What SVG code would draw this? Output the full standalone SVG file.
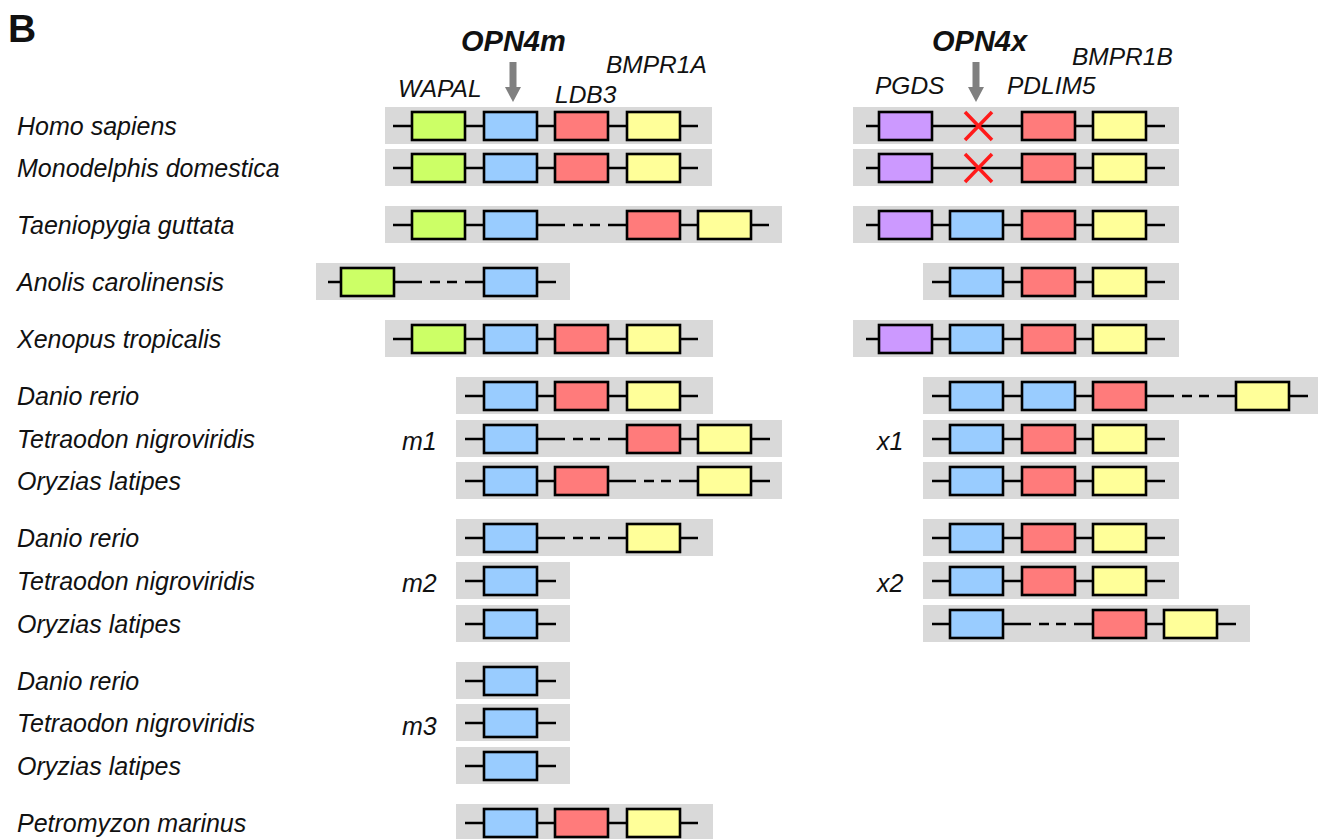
<svg xmlns="http://www.w3.org/2000/svg" width="1319" height="839" viewBox="0 0 1319 839">
<style>
.band{fill:#d9d9d9}
.ln{stroke:#000;stroke-width:2.5;fill:none}
.bx{stroke:#000;stroke-width:2.6}
.gr{fill:#ccff66}.bl{fill:#99ccff}.rd{fill:#ff7b7b}.ye{fill:#ffff99}.pu{fill:#cc99ff}
.sp{font-family:"Liberation Sans",Arial,sans-serif;font-style:italic;font-size:24.5px;fill:#111}
.lb{font-size:25px}
.hd{font-family:"Liberation Sans",Arial,sans-serif;font-style:italic;font-weight:bold;font-size:29px;fill:#111}
.xm{stroke:#ff1a1a;stroke-width:3.5;fill:none}
.ar{fill:#808080}
</style>
<rect width="1319" height="839" fill="#fff"/>
<text x="8" y="42" font-family="Liberation Sans, Arial, sans-serif" font-weight="bold" font-size="39" fill="#111">B</text>

<g id="header">
<text class="hd" x="461" y="51">OPN4m</text>
<rect class="ar" x="509.5" y="62" width="7" height="27"/>
<polygon class="ar" points="505,87 521,87 513,102"/>
<text class="sp" x="398" y="97">WAPAL</text>
<text class="sp" x="555" y="103">LDB3</text>
<text class="sp" x="606" y="73">BMPR1A</text>
<text class="hd" x="932" y="51">OPN4x</text>
<rect class="ar" x="972.5" y="62" width="7" height="27"/>
<polygon class="ar" points="968,87 984,87 976,102"/>
<text class="sp" x="875" y="94">PGDS</text>
<text class="sp" x="1007" y="94">PDLIM5</text>
<text class="sp" x="1072" y="65">BMPR1B</text>
</g>

<g id="labels">
<text class="sp lb" x="17" y="135">Homo sapiens</text>
<text class="sp lb" x="17" y="177">Monodelphis domestica</text>
<text class="sp lb" x="17" y="234">Taeniopygia guttata</text>
<text class="sp lb" x="17" y="291">Anolis carolinensis</text>
<text class="sp lb" x="17" y="348">Xenopus tropicalis</text>
<text class="sp lb" x="17" y="405">Danio rerio</text>
<text class="sp lb" x="17" y="448">Tetraodon nigroviridis</text>
<text class="sp lb" x="17" y="490">Oryzias latipes</text>
<text class="sp lb" x="17" y="547">Danio rerio</text>
<text class="sp lb" x="17" y="590">Tetraodon nigroviridis</text>
<text class="sp lb" x="17" y="633">Oryzias latipes</text>
<text class="sp lb" x="17" y="690">Danio rerio</text>
<text class="sp lb" x="17" y="732">Tetraodon nigroviridis</text>
<text class="sp lb" x="17" y="775">Oryzias latipes</text>
<text class="sp lb" x="17" y="832">Petromyzon marinus</text>
<text class="sp lb" x="402" y="450">m1</text>
<text class="sp lb" x="402" y="592">m2</text>
<text class="sp lb" x="402" y="735">m3</text>
<text class="sp lb" x="877" y="450">x1</text>
<text class="sp lb" x="877" y="592">x2</text>
</g>

<g id="bands">
<rect class="band" x="385" y="107" width="327" height="37"/>
<rect class="band" x="385" y="149" width="327" height="37"/>
<rect class="band" x="385" y="206" width="397" height="37"/>
<rect class="band" x="316" y="263" width="254" height="37"/>
<rect class="band" x="385" y="320" width="328" height="37"/>
<rect class="band" x="456" y="377" width="257" height="37"/>
<rect class="band" x="456" y="420" width="326" height="37"/>
<rect class="band" x="456" y="462" width="326" height="37"/>
<rect class="band" x="456" y="519" width="257" height="37"/>
<rect class="band" x="456" y="562" width="114" height="37"/>
<rect class="band" x="456" y="605" width="114" height="37"/>
<rect class="band" x="456" y="662" width="114" height="37"/>
<rect class="band" x="456" y="704" width="114" height="37"/>
<rect class="band" x="456" y="747" width="114" height="37"/>
<rect class="band" x="456" y="804" width="257" height="37"/>
<rect class="band" x="853" y="107" width="326" height="37"/>
<rect class="band" x="853" y="149" width="326" height="37"/>
<rect class="band" x="853" y="206" width="326" height="37"/>
<rect class="band" x="923" y="263" width="256" height="37"/>
<rect class="band" x="853" y="320" width="326" height="37"/>
<rect class="band" x="923" y="377" width="395" height="37"/>
<rect class="band" x="923" y="420" width="256" height="37"/>
<rect class="band" x="923" y="462" width="256" height="37"/>
<rect class="band" x="923" y="519" width="256" height="37"/>
<rect class="band" x="923" y="562" width="256" height="37"/>
<rect class="band" x="923" y="605" width="327" height="37"/>
</g>

<g id="connectors" class="ln">
<path d="M393 126H698M393 168H698M393 339H698"/>
<path d="M393 225H565M573 225H583M590 225H600M608 225H769"/>
<path d="M328 282H422M430 282H440M447 282H457M465 282H556"/>
<path d="M465 396H698M465 823H698"/>
<path d="M465 439H565M573 439H583M590 439H600M608 439H770"/>
<path d="M465 481H636M644 481H654M661 481H671M679 481H770"/>
<path d="M465 538H565M573 538H583M590 538H600M608 538H698"/>
<path d="M465 581H556M465 624H556M465 681H556M465 723H556M465 766H556"/>
<path d="M866 126H1165M866 168H1165M866 225H1165M866 339H1165"/>
<path d="M932 282H1165M932 439H1165M932 481H1165M932 538H1165M932 581H1165"/>
<path d="M932 396H1174M1182 396H1192M1199 396H1209M1217 396H1308"/>
<path d="M932 624H1031M1039 624H1049M1056 624H1066M1074 624H1236"/>
</g>

<g id="row-homo-m" class="bx">
<rect class="gr" x="412" y="112" width="53" height="28"/>
<rect class="bl" x="484" y="112" width="53" height="28"/>
<rect class="rd" x="555" y="112" width="53" height="28"/>
<rect class="ye" x="627" y="112" width="53" height="28"/>
</g>
<g id="row-mono-m" class="bx">
<rect class="gr" x="412" y="154" width="53" height="28"/>
<rect class="bl" x="484" y="154" width="53" height="28"/>
<rect class="rd" x="555" y="154" width="53" height="28"/>
<rect class="ye" x="627" y="154" width="53" height="28"/>
</g>
<g id="row-taen-m" class="bx">
<rect class="gr" x="412" y="211" width="53" height="28"/>
<rect class="bl" x="484" y="211" width="53" height="28"/>
<rect class="rd" x="627" y="211" width="53" height="28"/>
<rect class="ye" x="698" y="211" width="53" height="28"/>
</g>
<g id="row-anolis-m" class="bx">
<rect class="gr" x="341" y="268" width="53" height="28"/>
<rect class="bl" x="484" y="268" width="53" height="28"/>
</g>
<g id="row-xenopus-m" class="bx">
<rect class="gr" x="412" y="325" width="53" height="28"/>
<rect class="bl" x="484" y="325" width="53" height="28"/>
<rect class="rd" x="555" y="325" width="53" height="28"/>
<rect class="ye" x="627" y="325" width="53" height="28"/>
</g>
<g id="row-danio-m1" class="bx">
<rect class="bl" x="484" y="382" width="53" height="28"/>
<rect class="rd" x="555" y="382" width="53" height="28"/>
<rect class="ye" x="627" y="382" width="53" height="28"/>
</g>
<g id="row-tetra-m1" class="bx">
<rect class="bl" x="484" y="425" width="53" height="28"/>
<rect class="rd" x="627" y="425" width="53" height="28"/>
<rect class="ye" x="698" y="425" width="53" height="28"/>
</g>
<g id="row-oryz-m1" class="bx">
<rect class="bl" x="484" y="467" width="53" height="28"/>
<rect class="rd" x="555" y="467" width="53" height="28"/>
<rect class="ye" x="698" y="467" width="53" height="28"/>
</g>
<g id="row-danio-m2" class="bx">
<rect class="bl" x="484" y="524" width="53" height="28"/>
<rect class="ye" x="627" y="524" width="53" height="28"/>
</g>
<g id="row-tetra-m2" class="bx"><rect class="bl" x="484" y="567" width="53" height="28"/></g>
<g id="row-oryz-m2" class="bx"><rect class="bl" x="484" y="610" width="53" height="28"/></g>
<g id="row-danio-m3" class="bx"><rect class="bl" x="484" y="667" width="53" height="28"/></g>
<g id="row-tetra-m3" class="bx"><rect class="bl" x="484" y="709" width="53" height="28"/></g>
<g id="row-oryz-m3" class="bx"><rect class="bl" x="484" y="752" width="53" height="28"/></g>
<g id="row-petro" class="bx">
<rect class="bl" x="484" y="809" width="53" height="28"/>
<rect class="rd" x="555" y="809" width="53" height="28"/>
<rect class="ye" x="627" y="809" width="53" height="28"/>
</g>

<g id="row-homo-x" class="bx">
<rect class="pu" x="879" y="112" width="53" height="28"/>
<rect class="rd" x="1022" y="112" width="53" height="28"/>
<rect class="ye" x="1093" y="112" width="53" height="28"/>
<path class="xm" d="M965 112L992 140M965 140L992 112"/>
</g>
<g id="row-mono-x" class="bx">
<rect class="pu" x="879" y="154" width="53" height="28"/>
<rect class="rd" x="1022" y="154" width="53" height="28"/>
<rect class="ye" x="1093" y="154" width="53" height="28"/>
<path class="xm" d="M965 154L992 182M965 182L992 154"/>
</g>
<g id="row-taen-x" class="bx">
<rect class="pu" x="879" y="211" width="53" height="28"/>
<rect class="bl" x="950" y="211" width="53" height="28"/>
<rect class="rd" x="1022" y="211" width="53" height="28"/>
<rect class="ye" x="1093" y="211" width="53" height="28"/>
</g>
<g id="row-anolis-x" class="bx">
<rect class="bl" x="950" y="268" width="53" height="28"/>
<rect class="rd" x="1022" y="268" width="53" height="28"/>
<rect class="ye" x="1093" y="268" width="53" height="28"/>
</g>
<g id="row-xenopus-x" class="bx">
<rect class="pu" x="879" y="325" width="53" height="28"/>
<rect class="bl" x="950" y="325" width="53" height="28"/>
<rect class="rd" x="1022" y="325" width="53" height="28"/>
<rect class="ye" x="1093" y="325" width="53" height="28"/>
</g>
<g id="row-danio-x1" class="bx">
<rect class="bl" x="950" y="382" width="53" height="28"/>
<rect class="bl" x="1022" y="382" width="53" height="28"/>
<rect class="rd" x="1093" y="382" width="53" height="28"/>
<rect class="ye" x="1236" y="382" width="53" height="28"/>
</g>
<g id="row-tetra-x1" class="bx">
<rect class="bl" x="950" y="425" width="53" height="28"/>
<rect class="rd" x="1022" y="425" width="53" height="28"/>
<rect class="ye" x="1093" y="425" width="53" height="28"/>
</g>
<g id="row-oryz-x1" class="bx">
<rect class="bl" x="950" y="467" width="53" height="28"/>
<rect class="rd" x="1022" y="467" width="53" height="28"/>
<rect class="ye" x="1093" y="467" width="53" height="28"/>
</g>
<g id="row-danio-x2" class="bx">
<rect class="bl" x="950" y="524" width="53" height="28"/>
<rect class="rd" x="1022" y="524" width="53" height="28"/>
<rect class="ye" x="1093" y="524" width="53" height="28"/>
</g>
<g id="row-tetra-x2" class="bx">
<rect class="bl" x="950" y="567" width="53" height="28"/>
<rect class="rd" x="1022" y="567" width="53" height="28"/>
<rect class="ye" x="1093" y="567" width="53" height="28"/>
</g>
<g id="row-oryz-x2" class="bx">
<rect class="bl" x="950" y="610" width="53" height="28"/>
<rect class="rd" x="1093" y="610" width="53" height="28"/>
<rect class="ye" x="1164" y="610" width="53" height="28"/>
</g>
</svg>
